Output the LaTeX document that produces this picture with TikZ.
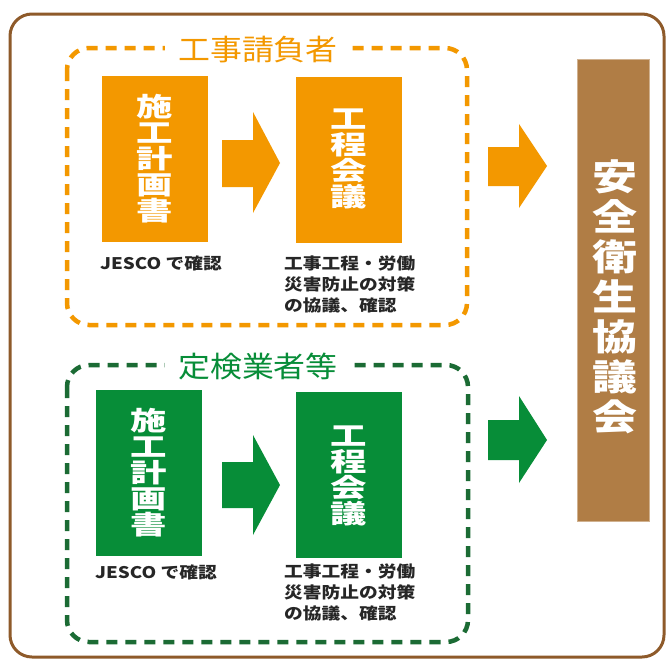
\documentclass[tikz,border=0pt]{standalone}
\usepackage{fontspec}
\newfontfamily\jp{Noto Sans CJK JP}
\definecolor{orng}{HTML}{F39800}
\definecolor{grn}{HTML}{078D38}
\definecolor{dgrn}{HTML}{1B6B34}
\definecolor{brwn}{HTML}{B07D45}
\definecolor{obrown}{HTML}{8E5A2A}
\tikzset{
  blk/.style={draw=none, minimum width=106pt, minimum height=166pt, inner sep=0},
  boxtext/.style={text=white, font=\jp\bfseries\fontsize{26}{26}\selectfont, align=center, xscale=1.4, inner sep=0},
  grptitle/.style={font=\jp\fontsize{29}{29}\selectfont, fill=white, inner xsep=12pt, inner ysep=2pt, xscale=1.1},
  note/.style={font=\jp\bfseries\fontsize{16}{21}\selectfont, text=black!85, align=left, inner sep=0, xscale=1.17},
  dashbox/.style={line width=4.5pt, dash pattern=on 11pt off 8pt, rounded corners=22pt},
}
\begin{document}
\begin{tikzpicture}[x=1pt,y=-1pt]
\useasboundingbox (0,0) rectangle (666,659);
\fill[white] (0,0) rectangle (666,659);
% outer frame
\draw[obrown, line width=3pt, rounded corners=22pt] (10,14) rectangle (664,657);
% dashed group boxes
\draw[orng, dashbox] (67,48) rectangle (467,325);
\draw[dgrn, dashbox] (67,365) rectangle (468,642);
\node[grptitle, text=orng] (t1) at (258,50) {工事請負者};
\node[grptitle, text=grn] (t2) at (258,366) {定検業者等};
% orange group
\node[blk, fill=orng] (a1) at (155,158.5) {};
\node[boxtext] at (a1.center) {施\\工\\計\\画\\書};
\node[blk, fill=orng] (a2) at (349,160) {};
\node[boxtext] at ([yshift=1pt]a2.center) {工\\程\\会\\議};
\fill[orng] (222,140) -- (253,140) -- (253,112) -- (280,163) -- (253,213) -- (253,187) -- (222,187) -- cycle;
\node[note, anchor=west] (n1) at (100,263) {JESCO で確認};
\node[note, anchor=north west] (n2) at (284,256) {工事工程・労働\\災害防止の対策\\の協議、確認};
% green group
\node[blk, fill=grn] (b1) at (148.5,472.5) {};
\node[boxtext] at (b1.center) {施\\工\\計\\画\\書};
\node[blk, fill=grn] (b2) at (349,474.5) {};
\node[boxtext] at ([yshift=-1pt]b2.center) {工\\程\\会\\議};
\fill[grn] (222,462) -- (253,462) -- (253,435) -- (280,485) -- (253,535) -- (253,508) -- (222,508) -- cycle;
\node[note, anchor=west] (m1) at (95,572) {JESCO で確認};
\node[note, anchor=north west] (m2) at (284,564) {工事工程・労働\\災害防止の対策\\の協議、確認};
% right arrows
\fill[orng] (488,147) -- (519,147) -- (519,124) -- (547,166) -- (519,208) -- (519,186) -- (488,186) -- cycle;
\fill[grn] (488,420) -- (519,420) -- (519,396) -- (547,440) -- (519,483) -- (519,460) -- (488,460) -- cycle;
% safety council
\node[draw=brwn!60!white, line width=0.8pt, fill=brwn, minimum width=72pt, minimum height=462pt, inner sep=0] (c) at (613,290) {};
\node[text=white, font=\jp\bfseries\fontsize{36}{40}\selectfont, align=center, xscale=1.25, inner sep=0] at (615,297) {安\\全\\衛\\生\\協\\議\\会};
\end{tikzpicture}
\end{document}
